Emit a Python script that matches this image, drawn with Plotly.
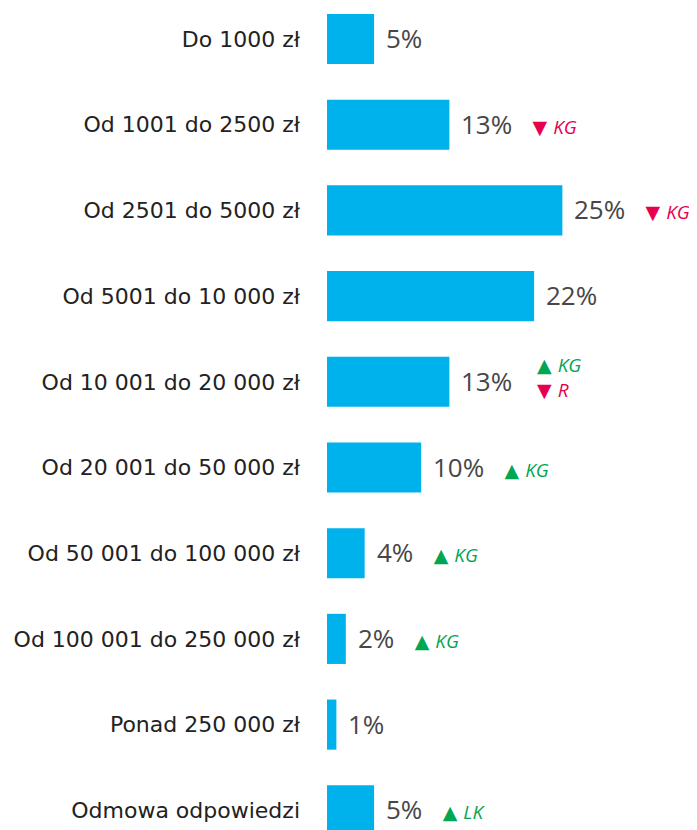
import plotly.graph_objects as go

categories = ["Do 1000 zł", "Od 1001 do 2500 zł", "Od 2501 do 5000 zł", "Od 5001 do 10 000 zł",
              "Od 10 001 do 20 000 zł", "Od 20 001 do 50 000 zł", "Od 50 001 do 100 000 zł",
              "Od 100 001 do 250 000 zł", "Ponad 250 000 zł", "Odmowa odpowiedzi"]
values = [5, 13, 25, 22, 13, 10, 4, 2, 1, 5]
change_dirs = [[], ["down"], ["down"], [], ["up", "down"], ["up"], ["up"], ["up"], [], ["up"]]
change_groups = [[], ["KG"], ["KG"], [], ["KG", "R"], ["KG"], ["KG"], ["KG"], [], ["LK"]]

BAR = "#00B2EC"
UP = "#00A651"
DOWN = "#E6004F"
FONT = "Open Sans"

fig = go.Figure(go.Bar(
    x=values, y=categories, orientation="h",
    marker=dict(color=BAR, line=dict(width=0)),
    width=0.585, hoverinfo="skip",
))

def mark(d, g):
    c = UP if d == "up" else DOWN
    sym = "▲" if d == "up" else "▼"
    return (f"<span style='color:{c};font-size:19px;font-family:DejaVu Sans'>{sym}&nbsp;</span>"
            f"<span style='color:{c};font-size:19px'><i>{g}</i></span>")

annotations = []
for cat, v, dirs, grps in zip(categories, values, change_dirs, change_groups):
    txt = f"{v}%"
    if len(dirs) == 1:
        txt += "&nbsp;&nbsp;&nbsp;" + mark(dirs[0], grps[0])
    annotations.append(dict(x=v, y=cat, xref="x", yref="y", text=txt, showarrow=False,
                            xanchor="left", yanchor="middle", xshift=10, yshift=1,
                            font=dict(family=FONT, size=26, color="#474747")))
    if len(dirs) > 1:
        lines = "<br>".join(mark(d, g) for d, g in zip(dirs, grps))
        annotations.append(dict(x=v, y=cat, xref="x", yref="y", text=lines, showarrow=False,
                                xanchor="left", yanchor="middle", xshift=86, yshift=4,
                                align="left", font=dict(family=FONT, size=19)))

fig.update_layout(
    width=689, height=822,
    margin=dict(l=319, r=0, t=0, b=0),
    paper_bgcolor="white", plot_bgcolor="white",
    showlegend=False,
    annotations=annotations,
    xaxis=dict(range=[0, 39.3], visible=False, fixedrange=True),
    yaxis=dict(categoryorder="array", categoryarray=categories, range=[9.23, -0.362],
               showgrid=False, showline=False, zeroline=False, ticks="",
               ticklabelstandoff=26,
               tickfont=dict(family="DejaVu Sans", size=22, color="#222222")),
)

fig.write_html("out.html")
